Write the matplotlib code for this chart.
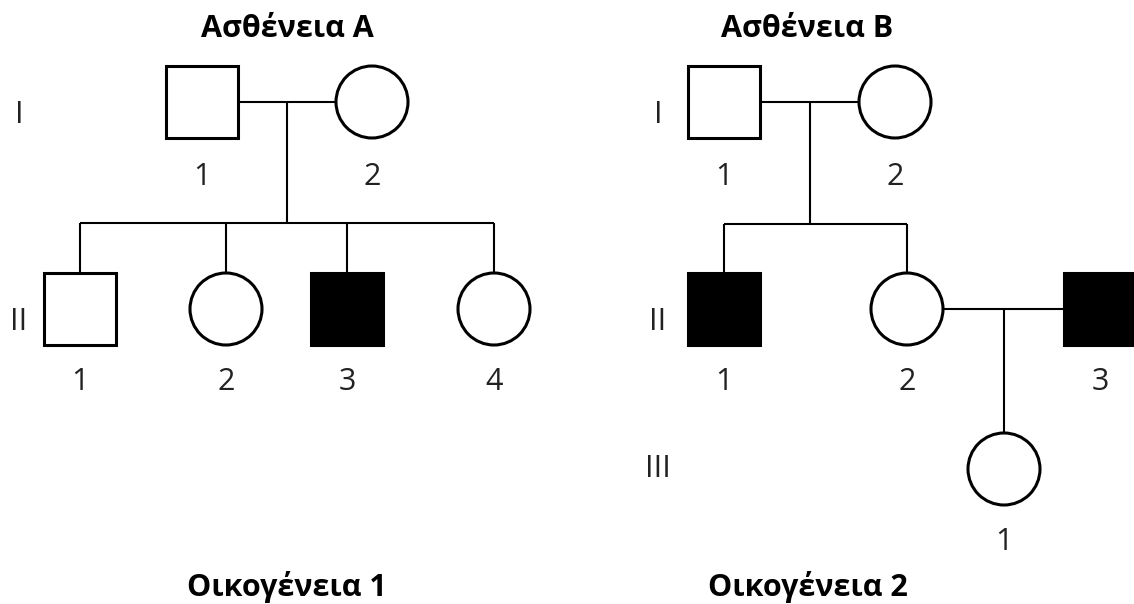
import matplotlib
matplotlib.use("Agg")
import matplotlib.pyplot as plt
from matplotlib.patches import Rectangle, Circle

plt.rcParams['font.family'] = ['Open Sans', 'DejaVu Sans']

# ---------------------------------------------------------#
#                        Pedigree data                      #
# ---------------------------------------------------------#
titles = ["Ασθένεια Α", "Ασθένεια Β"]
family_names = ["Οικογένεια 1", "Οικογένεια 2"]
generation_labels_1 = ["I", "II"]
generation_labels_2 = ["I", "II", "III"]

# family 1: sex (M/F), affected (1/0), id number
fam1_gen1_sex = ["M", "F"]
fam1_gen1_affected = [0, 0]
fam1_gen1_ids = ["1", "2"]
fam1_gen2_sex = ["M", "F", "M", "F"]
fam1_gen2_affected = [0, 0, 1, 0]
fam1_gen2_ids = ["1", "2", "3", "4"]

# family 2
fam2_gen1_sex = ["M", "F"]
fam2_gen1_affected = [0, 0]
fam2_gen1_ids = ["1", "2"]
fam2_gen2_sex = ["M", "F", "M"]
fam2_gen2_affected = [1, 0, 1]
fam2_gen2_ids = ["1", "2", "3"]
fam2_gen3_sex = ["F"]
fam2_gen3_affected = [0]
fam2_gen3_ids = ["1"]

# ---------------------------------------------------------#
#                  Layout (pixel coordinates)               #
# ---------------------------------------------------------#
W, H = 1134, 604
HALF = 36          # half size of a symbol
GEN_Y = [102, 309, 469]
fam1_gen1_x = [202, 372]
fam1_gen2_x = [80, 226, 347, 494]
fam2_gen1_x = [724, 895]
fam2_gen2_x = [724, 907, 1100]
fam2_gen3_x = [1004]

fig = plt.figure(figsize=(W / 100, H / 100), dpi=100)
ax = fig.add_axes([0, 0, 1, 1])
ax.set_xlim(0, W)
ax.set_ylim(H, 0)
ax.set_aspect('equal')
ax.axis('off')

SYM_LW = 2.2
LINE_LW = 1.5
FS = 22


def person(x, y, sex, affected):
    face = 'black' if affected else 'white'
    if sex == "M":
        p = Rectangle((x - HALF, y - HALF), 2 * HALF, 2 * HALF, facecolor=face,
                      edgecolor='black', lw=SYM_LW, zorder=3)
    else:
        p = Circle((x, y), HALF, facecolor=face, edgecolor='black', lw=SYM_LW, zorder=3)
    ax.add_patch(p)


def line(xs, ys):
    ax.plot(xs, ys, color='black', lw=LINE_LW, solid_capstyle='butt', zorder=2)


def generation(xs, y, sexes, affected, ids, label_y):
    for x, s, a, i in zip(xs, sexes, affected, ids):
        person(x, y, s, a)
        ax.text(x, label_y, i, ha='center', va='baseline', fontsize=FS, color='#222222')


def mating(x1, x2, y):
    line([x1 + HALF, x2 - HALF], [y, y])
    return (x1 + x2) / 2


def sibship(xmid, y_from, y_bar, xs, y_child):
    line([xmid, xmid], [y_from, y_bar])
    if len(xs) > 1:
        line([min(xs), max(xs)], [y_bar, y_bar])
    for x in xs:
        line([x, x], [y_bar, y_child - HALF])


# ----------------------- family 1 ------------------------ #
generation(fam1_gen1_x, GEN_Y[0], fam1_gen1_sex, fam1_gen1_affected, fam1_gen1_ids, 185)
generation(fam1_gen2_x, GEN_Y[1], fam1_gen2_sex, fam1_gen2_affected, fam1_gen2_ids, 390)
mid = mating(fam1_gen1_x[0], fam1_gen1_x[1], GEN_Y[0])
sibship(mid, GEN_Y[0], 223, fam1_gen2_x, GEN_Y[1])

# ----------------------- family 2 ------------------------ #
generation(fam2_gen1_x, GEN_Y[0], fam2_gen1_sex, fam2_gen1_affected, fam2_gen1_ids, 185)
generation(fam2_gen2_x, GEN_Y[1], fam2_gen2_sex, fam2_gen2_affected, fam2_gen2_ids, 390)
generation(fam2_gen3_x, GEN_Y[2], fam2_gen3_sex, fam2_gen3_affected, fam2_gen3_ids, 550)
mid = mating(fam2_gen1_x[0], fam2_gen1_x[1], GEN_Y[0])
sibship(mid, GEN_Y[0], 224, fam2_gen2_x[:2], GEN_Y[1])
mid = mating(fam2_gen2_x[1], fam2_gen2_x[2], GEN_Y[1])
line([1004, 1004], [GEN_Y[1], GEN_Y[2] - HALF])

# ----------------------- texts --------------------------- #
for lab, y in zip(generation_labels_1, [123, 330]):
    ax.text(19, y, lab, ha='center', va='baseline', fontsize=FS, color='#222222')
for lab, y in zip(generation_labels_2, [123, 330, 477]):
    ax.text(658, y, lab, ha='center', va='baseline', fontsize=FS, color='#222222')

for t, x in zip(titles, [287, 807]):
    ax.text(x, 37, t, ha='center', va='baseline', fontsize=FS, fontweight='bold')
for t, x in zip(family_names, [287, 808]):
    ax.text(x, 596, t, ha='center', va='baseline', fontsize=FS, fontweight='bold')

fig.savefig("out.png", dpi=100)
